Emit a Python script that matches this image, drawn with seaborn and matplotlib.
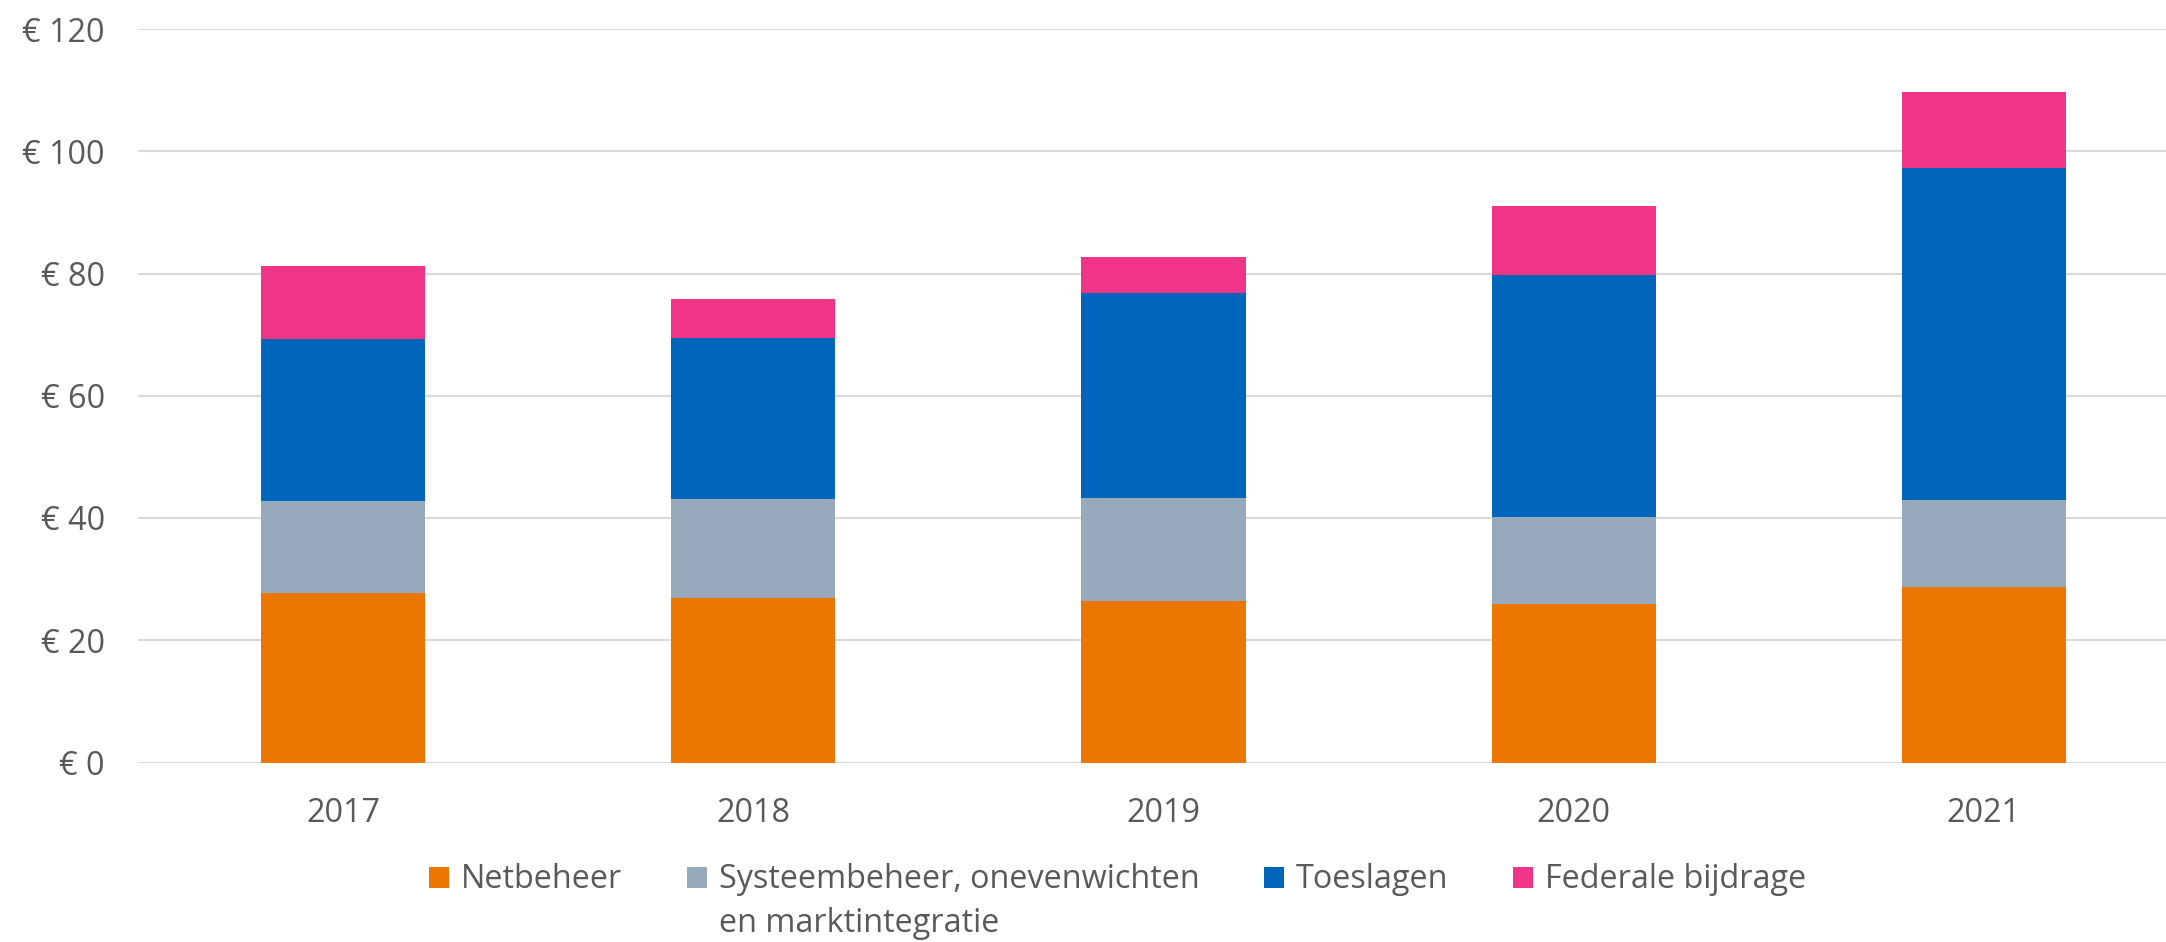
import pandas as pd
import seaborn as sns
import matplotlib.pyplot as plt
from matplotlib.patches import Patch

# values (euro)
years = ["2017", "2018", "2019", "2020", "2021"]
netbeheer = [27.8, 26.9, 26.5, 26.0, 28.7]
systeembeheer = [15.0, 16.2, 16.8, 14.1, 14.2]
toeslagen = [26.5, 26.4, 33.5, 39.7, 54.4]
federale_bijdrage = [12.0, 6.3, 5.9, 11.2, 12.4]

series = ["Netbeheer", "Systeembeheer, onevenwichten", "Toeslagen", "Federale bijdrage"]
second_line = "en marktintegratie"
colors = ["#EC7700", "#97AABB", "#0066BB", "#F03488"]
yticks = [0, 20, 40, 60, 80, 100, 120]

sns.set_style("white")
plt.rcParams['font.family'] = ['Open Sans', 'DejaVu Sans']
text_color = "#595959"
fs = 23.3

df = pd.DataFrame({
    "year": years,
    series[0]: netbeheer,
    series[1]: systeembeheer,
    series[2]: toeslagen,
    series[3]: federale_bijdrage,
})
cum = df[series].cumsum(axis=1)
cum["year"] = df["year"]

W, H = 2166, 942
fig = plt.figure(figsize=(W / 100, H / 100), dpi=100)
ax = fig.add_axes([138 / W, 1 - 762.5 / H, 1 - 138 / W, (762.5 - 29) / H])

# stacked bars: draw the running totals from the top segment down
for name, color in reversed(list(zip(series, colors))):
    sns.barplot(data=cum, x="year", y=name, order=years, color=color,
                width=0.4, saturation=1, linewidth=0, errorbar=None, ax=ax)

ax.set_ylim(0, 120)
ax.set_xlim(-0.5, 4.444)
ax.set_yticks(yticks)
ax.set_yticklabels([f"€ {v}" for v in yticks])
ax.set_xlabel("")
ax.set_ylabel("")
ax.yaxis.grid(True, color="#D9D9D9", linewidth=1.5)
ax.set_axisbelow(True)
for s in ax.spines.values():
    s.set_visible(False)
ax.tick_params(axis="both", length=0, labelsize=fs, labelcolor=text_color)
ax.tick_params(axis="y", pad=24)
ax.tick_params(axis="x", pad=25)

handles = [Patch(facecolor=c, edgecolor="none") for c in colors]
leg = fig.legend(handles, series, loc="center", ncol=4,
                 bbox_to_anchor=(0.516, 1 - 880 / H), frameon=False,
                 fontsize=fs, handlelength=0.62, handleheight=0.62,
                 handletextpad=0.36, columnspacing=2.0, labelcolor=text_color,
                 borderpad=0, borderaxespad=0)

# second line of the wrapped legend label, placed under the first line
fig.canvas.draw()
bb = leg.get_texts()[1].get_window_extent(fig.canvas.get_renderer())
fig.text(bb.x0 / W, (bb.y0 + bb.y1) / 2 / H - 44 / H, second_line,
         ha="left", va="center", fontsize=fs, color=text_color)

fig.savefig("out.png", dpi=100)
